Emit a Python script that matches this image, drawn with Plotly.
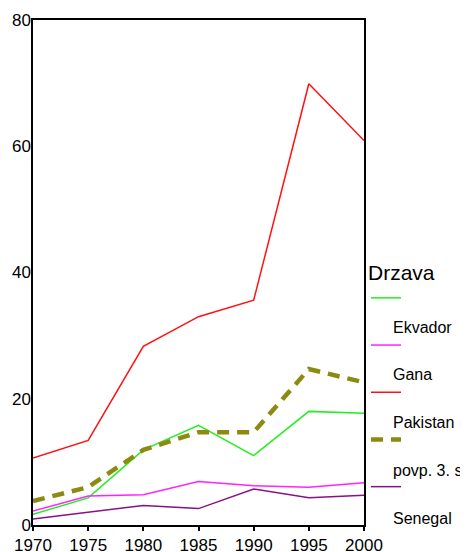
import plotly.graph_objects as go

# values
years = [1970, 1975, 1980, 1985, 1990, 1995, 2000]
ekvador = [1.7, 4.3, 11.9, 15.8, 11.0, 18.0, 17.7]
gana = [2.2, 4.6, 4.8, 6.9, 6.2, 6.0, 6.7]
pakistan = [10.6, 13.4, 28.3, 33.0, 35.6, 69.9, 60.9]
povp = [3.8, 6.0, 11.9, 14.7, 14.7, 24.7, 22.6]
senegal = [0.95, 2.0, 3.1, 2.6, 5.7, 4.3, 4.7]

names = ["Ekvador", "Gana", "Pakistan", "povp. 3. s", "Senegal"]
series = [ekvador, gana, pakistan, povp, senegal]
colors = ["#22ee22", "#ff22ff", "#ff1111", "#8c8a10", "#881088"]
widths = [1.5, 1.5, 1.5, 4.5, 1.5]
dashes = ["solid", "solid", "solid", "12px,8px", "solid"]

fig = go.Figure()
for i, (name, vals) in enumerate(zip(names, series)):
    fig.add_trace(go.Scatter(
        x=years, y=vals, mode="lines", name="<br>\u00a0",
        legendgroup="g%d" % i, hovertext=name, hoverinfo="x+y+text",
        line=dict(color=colors[i], width=widths[i], dash=dashes[i]),
    ))

# legend labels sit under their line sample and start left of its end,
# which the plotly legend can't do, so they are placed as annotations
plot_l, plot_r, plot_t, plot_b = 33, 364, 20, 525
label_x = 391
label_y0, label_step = 327, 47.75
for i, name in enumerate(names):
    py = label_y0 + i * label_step
    fig.add_annotation(
        text=name, showarrow=False, xref="paper", yref="paper",
        x=(label_x - plot_l) / (plot_r - plot_l),
        y=(plot_b - py) / (plot_b - plot_t),
        xanchor="left", yanchor="middle", font=dict(size=16),
    )

# the page body adds an 8px offset, so margins are shifted to compensate
fig.update_layout(
    width=468, height=552,
    margin=dict(l=plot_l - 8, r=468 - plot_r + 8, t=plot_t - 8, b=552 - plot_b + 8,
                autoexpand=False),
    paper_bgcolor="white", plot_bgcolor="white",
    font=dict(family="Liberation Sans, Arial, sans-serif", size=17, color="black"),
    showlegend=True,
    legend=dict(
        title=dict(text="Drzava", font=dict(size=21)),
        font=dict(size=17),
        xref="container", yref="container",
        x=358 / 468, xanchor="left",
        y=1 - 245 / 552, yanchor="top",
        valign="top", tracegroupgap=0,
        bgcolor="rgba(0,0,0,0)", itemwidth=30,
    ),
)

fig.update_xaxes(
    range=[1970, 2000], tickvals=years, showgrid=False, zeroline=False,
    showline=True, linecolor="black", linewidth=1.5, mirror=True,
    ticks="outside", ticklen=4, tickcolor="black", tickwidth=1.5,
)
fig.update_yaxes(
    range=[0, 80], tickvals=[0, 20, 40, 60, 80], showgrid=False, zeroline=False,
    showline=True, linecolor="black", linewidth=1.5, mirror=True,
    ticks="", ticklabelstandoff=-3,
)

fig.write_html("out.html")
